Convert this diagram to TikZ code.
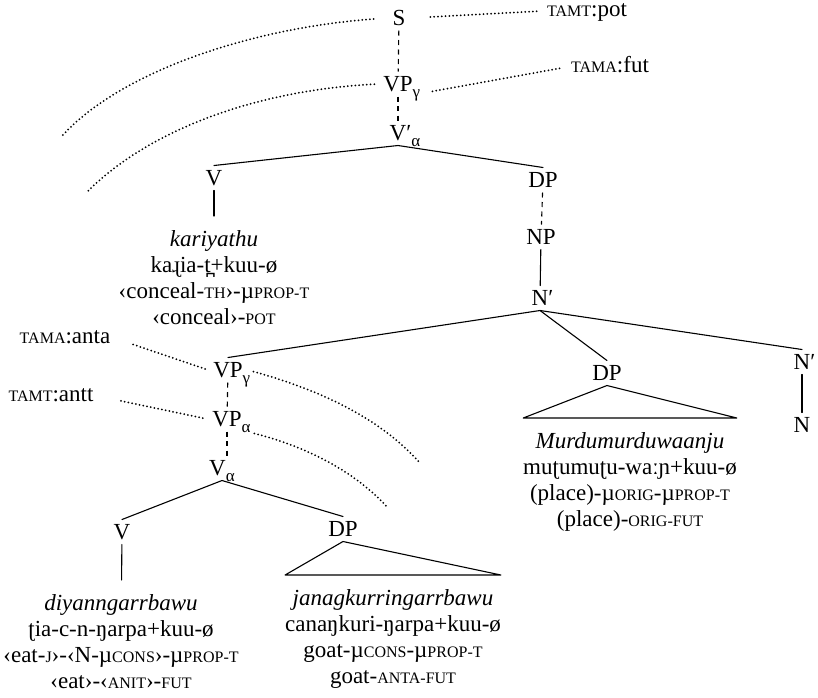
\documentclass[tikz,border=0pt]{standalone}
\usepackage{fontspec}
\setmainfont{Liberation Serif}
\newcommand\smc[1]{{\fontsize{16}{16}\selectfont\uppercase{#1}}}
\newcommand\lowidx[1]{\raisebox{-6pt}{\fontsize{17}{17}\selectfont #1}}
\begin{document}
\begin{tikzpicture}[x=1pt,y=-1pt,line cap=round,line join=round,
                    font=\fontsize{23}{26}\selectfont,
    cat/.style={inner sep=0pt,outer sep=5pt,text height=15pt,text depth=0pt},
    gloss/.style={inner sep=0pt,outer xsep=0pt,outer ysep=15pt,
                  align=center,anchor=north},
    feat/.style={inner sep=0pt,outer sep=4pt,text height=11pt,text depth=0pt},
    branch/.style={line width=1.1pt},
    chain/.style={line width=1.1pt,dash pattern=on 5pt off 4.5pt,line cap=butt},
    reach/.style={line width=2pt,dash pattern=on 0pt off 3.8pt}]
  \useasboundingbox (0,0) rectangle (818,697);

  % Upper clause: the verb chain.
  \node[cat] (s)    at (399,18)  {S};
  \node[cat] (vpg)  at (398,84)  {VP\rlap{\lowidx{γ}}};
  \node[cat] (vbar) at (398,133) {V\rlap{′\lowidx{α}}};
  \node[cat] (v1)   at (214,178) {V};
  \node[cat] (dp1)  at (543,180) {DP};
  \node[cat] (np)   at (541,237) {NP};
  \node[cat] (nbar) at (540,298) {N\rlap{′}};

  \node[feat] (pot) at (587,11)  {\smc{tamt}:pot};
  \node[feat] (fut) at (610,67)  {\smc{tama}:fut};

  \node[gloss] (kar) at (214,216)
    {\textit{kariyathu}\\ kaɻia-t̪+kuu-ø\\
     ‹conceal-\smc{th}›-µ\smc{prop-t}\\ ‹conceal›-\smc{pot}};

  \draw[chain] (s) -- (vpg);
  \draw[chain] (vpg) -- (vbar);
  \draw[branch] (vbar.south) -- (v1.north);
  \draw[branch] (vbar.south) -- (dp1.north);
  \draw[branch] (v1) -- (kar);
  \draw[chain] (dp1) -- (np);
  \draw[branch] (np) -- (nbar);

  % Scope of the clause-level features.
  \coordinate (sedge) at (62,136);
  \coordinate (vpedge) at (86,193);
  \draw[reach,shorten <=14pt] (s.west) .. controls (250,28) and (120,72) .. (sedge);
  \draw[reach,shorten <=4pt] (vpg.west) .. controls (260,90) and (150,128) .. (vpedge);
  \draw[reach,shorten <=20pt,shorten >=4pt] (s.east) -- (pot.west);
  \draw[reach,shorten <=15pt,shorten >=4pt] ([yshift=-10pt]vpg.east) -- (fut.west);

  % Lower clause inside the noun phrase.
  \node[cat] (vpg2) at (228,370) {VP\rlap{\lowidx{γ}}};
  \node[cat] (vpa)  at (227,419) {VP\rlap{\lowidx{α}}};
  \node[cat] (va)   at (222,468) {V\lowidx{α}};
  \node[cat] (v2)   at (122,532) {V};
  \node[cat] (dp2)  at (343,529) {DP};

  \node[feat] (anta) at (65,338)  {\smc{tama}:anta};
  \node[feat] (antt) at (51,396)  {\smc{tamt}:antt};

  \node[gloss] (diy) at (121,580)
    {\textit{diyanngarrbawu}\\ ʈia-c-n-ŋarpa+kuu-ø\\
     ‹eat-\smc{j}›-‹N-µ\smc{cons}›-µ\smc{prop-t}\\
     ‹eat›-‹\smc{anit}›-\smc{fut}};
  \node[gloss] (jan) at (393,575)
    {\textit{janagkurringarrbawu}\\ canaŋkuri-ŋarpa+kuu-ø\\
     goat-µ\smc{cons}-µ\smc{prop-t}\\ goat-\smc{anta-fut}};

  \draw[branch] (nbar.south) -- (vpg2.north);
  \draw[chain] (vpg2) -- (vpa);
  \draw[chain] (vpa.south) -- (vpa.south |- va.north);
  \draw[branch] (va.south) -- (v2.north);
  \draw[branch] (va.south) -- (dp2.north);
  \draw[branch] (v2) -- (diy);
  \draw[branch] (dp2.south) -- (jan.north west) -- (jan.north east) -- cycle;

  \coordinate (gedge) at (420,463);
  \coordinate (aedge) at (388,508);
  \draw[reach,shorten <=20pt,shorten >=3pt] (anta.east) -- (vpg2.west);
  \draw[reach,shorten <=24pt,shorten >=3pt] (antt.east) -- (vpa.west);
  \draw[reach,shorten <=6pt] (vpg2.east) .. controls (320,390) and (380,418) .. (gedge);
  \draw[reach,shorten <=8pt] (vpa.south east) .. controls (300,445) and (352,468) .. (aedge);

  % Remaining daughters of N'.
  \node[cat] (dpm)   at (607,373) {DP};
  \node[cat] (nbar2) at (802,362) {N\rlap{′}};
  \node[cat] (n)     at (802,425) {N};
  \node[gloss] (mur) at (630,418)
    {\textit{Murdumurduwaanju}\\ muʈumuʈu-waːɲ+kuu-ø\\
     (place)-µ\smc{orig}-µ\smc{prop-t}\\ (place)-\smc{orig-fut}};

  \draw[branch] (nbar.south) -- (dpm.north);
  \draw[branch] (nbar.south) -- (nbar2.north);
  \draw[branch] (nbar2) -- (n);
  \draw[branch] (dpm.south) -- (mur.north west) -- (mur.north east) -- cycle;
\end{tikzpicture}
\end{document}
